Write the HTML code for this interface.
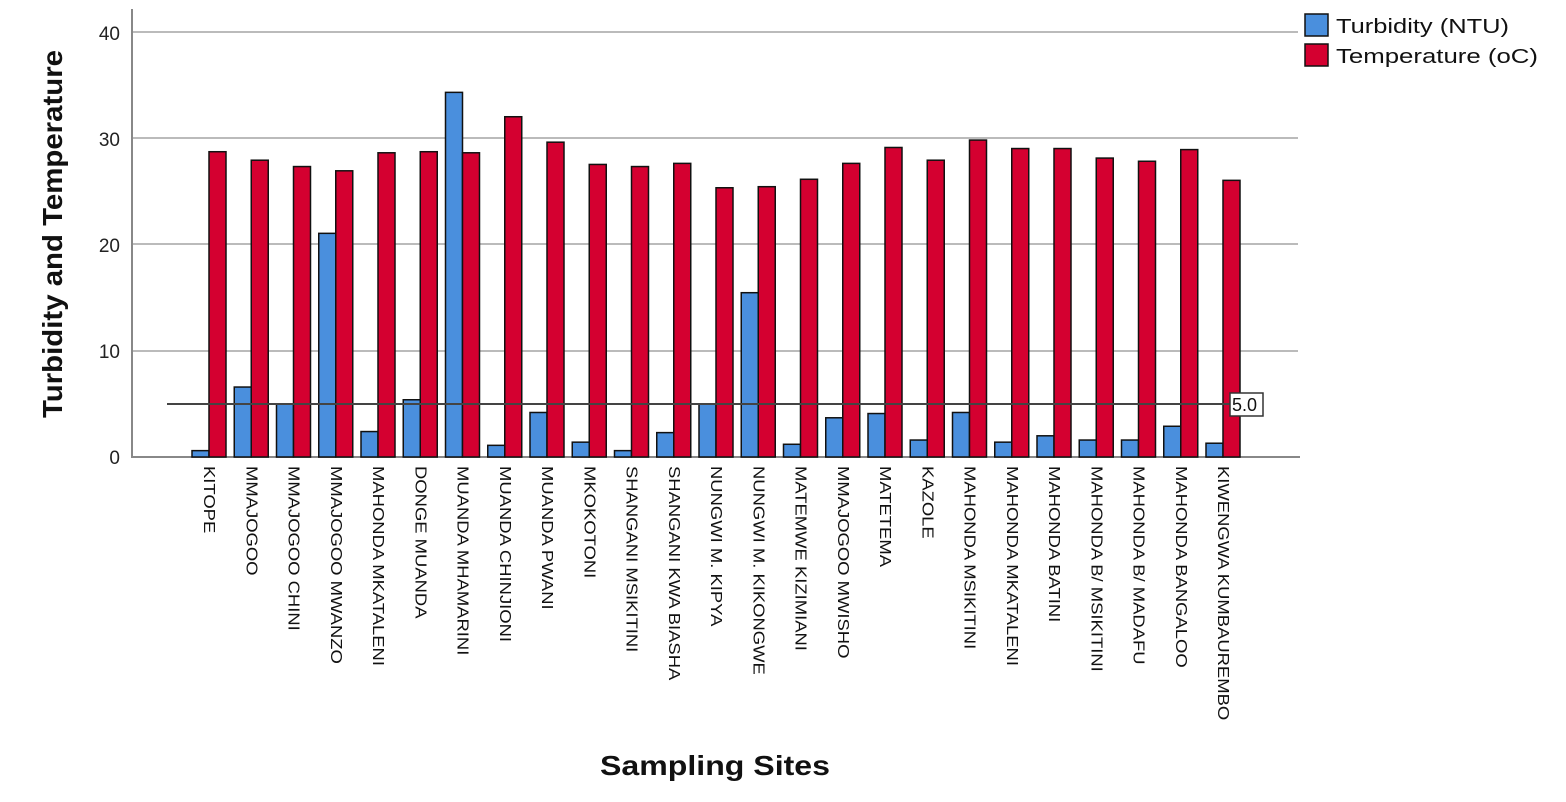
<!DOCTYPE html>
<html><head><style>body{margin:0;background:#fff}svg{display:block}</style></head>
<body>
<svg width="1566" height="802" xmlns="http://www.w3.org/2000/svg" font-family="Liberation Sans, sans-serif">
<rect width="1566" height="802" fill="#fff"/>
<g stroke="#bbb" stroke-width="2">
<line x1="133" y1="32" x2="1298" y2="32"/>
<line x1="133" y1="138" x2="1298" y2="138"/>
<line x1="133" y1="244" x2="1298" y2="244"/>
<line x1="133" y1="351" x2="1298" y2="351"/>
</g>
<line x1="132" y1="9" x2="132" y2="458" stroke="#888" stroke-width="2"/>
<line x1="132" y1="457" x2="1300" y2="457" stroke="#888" stroke-width="2"/>
<g font-size="19" fill="#222" text-anchor="end">
<text x="120" y="40">40</text><text x="120" y="146">30</text><text x="120" y="252">20</text><text x="120" y="358">10</text><text x="120" y="464">0</text>
</g>
<g id="bars" stroke="#111" stroke-width="1.5"></g>
<g id="labels" font-size="15.5" fill="#111"></g>
<line x1="167" y1="404" x2="1230" y2="404" stroke="#444" stroke-width="2"/>
<rect x="1230" y="393" width="33" height="23" fill="#fff" stroke="#333" stroke-width="1.5"/>
<text x="1232" y="411" font-size="18" fill="#111">5.0</text>
<rect x="1305" y="14" width="23" height="22" fill="#4a8fdd" stroke="#111" stroke-width="1.5"/>
<text x="1336" y="33" font-size="20" fill="#111" textLength="173" lengthAdjust="spacingAndGlyphs">Turbidity (NTU)</text>
<rect x="1305" y="44" width="23" height="22" fill="#d40030" stroke="#111" stroke-width="1.5"/>
<text x="1336" y="63" font-size="20" fill="#111" textLength="202" lengthAdjust="spacingAndGlyphs">Temperature (oC)</text>
<text transform="translate(62,234) rotate(-90)" text-anchor="middle" font-size="28" font-weight="bold" fill="#111" textLength="368" lengthAdjust="spacingAndGlyphs">Turbidity and Temperature</text>
<text x="715" y="775" text-anchor="middle" font-size="28" font-weight="bold" fill="#111" textLength="230" lengthAdjust="spacingAndGlyphs">Sampling Sites</text>
<script>
var names=["KITOPE","MMAJOGOO","MMAJOGOO CHINI","MMAJOGOO MWANZO","MAHONDA MKATALENI","DONGE MUANDA","MUANDA MHAMARINI","MUANDA CHINJIONI","MUANDA PWANI","MKOKOTONI","SHANGANI MSIKITINI","SHANGANI KWA BIASHA","NUNGWI M. KIPYA","NUNGWI M. KIKONGWE","MATEMWE KIZIMIANI","MMAJOGOO MWISHO","MATETEMA","KAZOLE","MAHONDA MSIKITINI","MAHONDA MKATALENI","MAHONDA BATINI","MAHONDA B/ MSIKITINI","MAHONDA B/ MADAFU","MAHONDA BANGALOO","KIWENGWA KUMBAUREMBO"];
var temp=[28.8,28,27.4,27,28.7,28.8,28.7,32.1,29.7,27.6,27.4,27.7,25.4,25.5,26.2,27.7,29.2,28,29.9,29.1,29.1,28.2,27.9,29,26.1];
var turb=[0.6,6.6,5,21.1,2.4,5.4,34.4,1.1,4.2,1.4,0.6,2.3,5,15.5,1.2,3.7,4.1,1.6,4.2,1.4,2,1.6,1.6,2.9,1.3];
var ns="http://www.w3.org/2000/svg",b=document.getElementById("bars"),l=document.getElementById("labels");
function r(x,v,c){var e=document.createElementNS(ns,"rect");var h=v*10.6;e.setAttribute("x",x);e.setAttribute("y",457-h);e.setAttribute("width",17);e.setAttribute("height",h);e.setAttribute("fill",c);b.appendChild(e);}
for(var i=0;i<25;i++){var x=192+i*42.25;r(x,turb[i],"#4a8fdd");r(x+17,temp[i],"#d40030");
var t=document.createElementNS(ns,"text");var cx=x+17;t.setAttribute("transform","translate("+(cx-5)+",466) rotate(90) scale(1.19,1)");t.textContent=names[i];l.appendChild(t);}
</script>
</svg>
</body></html>
